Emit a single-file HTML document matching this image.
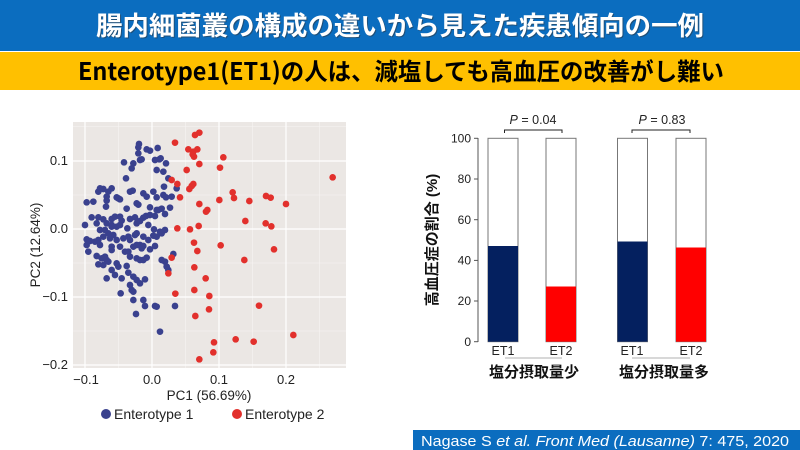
<!DOCTYPE html>
<html><head><meta charset="utf-8"><style>
html,body{margin:0;padding:0;background:#fff;width:800px;height:450px;overflow:hidden}
svg{display:block}
text{font-family:"Liberation Sans","Noto Sans CJK JP",sans-serif}
</style></head><body>
<svg width="800" height="450" viewBox="0 0 800 450" xmlns="http://www.w3.org/2000/svg">
<rect x="0" y="0" width="800" height="51" fill="#0b6dbf"/>
<rect x="0" y="52" width="800" height="38" fill="#ffc000"/>
<text x="401" y="36" text-anchor="middle" font-size="26" fill="#333" font-weight="bold" textLength="608" lengthAdjust="spacingAndGlyphs" style="font-family:'Noto Sans CJK JP',sans-serif" opacity="0.5">腸内細菌叢の構成の違いから見えた疾患傾向の一例</text>
<text x="400" y="35" text-anchor="middle" font-size="26" fill="#fff" font-weight="bold" textLength="608" lengthAdjust="spacingAndGlyphs" style="font-family:'Noto Sans CJK JP',sans-serif">腸内細菌叢の構成の違いから見えた疾患傾向の一例</text>
<text x="401" y="80" text-anchor="middle" font-size="24" fill="#000" font-weight="bold" textLength="646" lengthAdjust="spacingAndGlyphs" style="font-family:'Noto Sans CJK JP',sans-serif">Enterotype1(ET1)の人は、減塩しても高血圧の改善がし難い</text>

<rect x="73" y="122" width="273" height="246" fill="#ebe7e4"/>
<g stroke="#f7f5f3" stroke-width="0.6">
<line x1="118.5" y1="122" x2="118.5" y2="368"/><line x1="185.5" y1="122" x2="185.5" y2="368"/><line x1="252.5" y1="122" x2="252.5" y2="368"/><line x1="319.5" y1="122" x2="319.5" y2="368"/>
<line x1="73" y1="126.5" x2="346" y2="126.5"/><line x1="73" y1="195" x2="346" y2="195"/><line x1="73" y1="263" x2="346" y2="263"/><line x1="73" y1="331" x2="346" y2="331"/>
</g>
<g stroke="#fff" stroke-width="1.2">
<line x1="85" y1="122" x2="85" y2="368"/><line x1="152" y1="122" x2="152" y2="368"/><line x1="219" y1="122" x2="219" y2="368"/><line x1="286" y1="122" x2="286" y2="368"/>
<line x1="73" y1="161" x2="346" y2="161"/><line x1="73" y1="229" x2="346" y2="229"/><line x1="73" y1="297" x2="346" y2="297"/><line x1="73" y1="365" x2="346" y2="365"/>
</g>
<g font-size="13" fill="#222" text-anchor="end">
<text x="68" y="165">0.1</text><text x="68" y="233">0.0</text><text x="68" y="301">−0.1</text><text x="68" y="369">−0.2</text>
</g>
<g font-size="13" fill="#222" text-anchor="middle">
<text x="86" y="384">−0.1</text><text x="152" y="384">0.0</text><text x="219" y="384">0.1</text><text x="286" y="384">0.2</text>
<text x="209" y="400" font-size="13.5">PC1 (56.69%)</text>
</g>
<text transform="translate(40,245) rotate(-90)" font-size="13.5" fill="#222" text-anchor="middle">PC2 (12.64%)</text>
<g transform="translate(40,110) scale(0.33333)">
<g fill="#3a418e">
<circle cx="297" cy="102" r="10"/><circle cx="295" cy="112" r="10"/><circle cx="320" cy="118" r="10"/><circle cx="330" cy="122" r="10"/><circle cx="295" cy="130" r="10"/><circle cx="300" cy="150" r="10"/><circle cx="280" cy="160" r="10"/><circle cx="252" cy="157" r="10"/><circle cx="305" cy="148" r="10"/><circle cx="345" cy="150" r="10"/><circle cx="358" cy="148" r="10"/><circle cx="362" cy="145" r="10"/><circle cx="353" cy="114" r="10"/><circle cx="378" cy="160" r="10"/><circle cx="275" cy="175" r="10"/><circle cx="258" cy="205" r="10"/><circle cx="370" cy="185" r="10"/><circle cx="350" cy="180" r="10"/><circle cx="385" cy="205" r="10"/><circle cx="190" cy="237" r="10"/><circle cx="205" cy="245" r="10"/><circle cx="215" cy="235" r="10"/><circle cx="180" cy="235" r="10"/><circle cx="175" cy="245" r="10"/><circle cx="200" cy="260" r="10"/><circle cx="230" cy="262" r="10"/><circle cx="240" cy="268" r="10"/><circle cx="270" cy="245" r="10"/><circle cx="278" cy="242" r="10"/><circle cx="310" cy="250" r="10"/><circle cx="320" cy="260" r="10"/><circle cx="340" cy="245" r="10"/><circle cx="350" cy="262" r="10"/><circle cx="372" cy="230" r="10"/><circle cx="370" cy="255" r="10"/><circle cx="378" cy="262" r="10"/><circle cx="395" cy="260" r="10"/><circle cx="410" cy="235" r="10"/><circle cx="140" cy="277" r="10"/><circle cx="160" cy="275" r="10"/><circle cx="200" cy="272" r="10"/><circle cx="198" cy="290" r="10"/><circle cx="235" cy="265" r="10"/><circle cx="260" cy="296" r="10"/><circle cx="290" cy="280" r="10"/><circle cx="295" cy="284" r="10"/><circle cx="330" cy="292" r="10"/><circle cx="350" cy="300" r="10"/><circle cx="365" cy="296" r="10"/><circle cx="390" cy="293" r="10"/><circle cx="155" cy="322" r="10"/><circle cx="175" cy="322" r="10"/><circle cx="190" cy="328" r="10"/><circle cx="215" cy="327" r="10"/><circle cx="225" cy="320" r="10"/><circle cx="240" cy="320" r="10"/><circle cx="245" cy="332" r="10"/><circle cx="270" cy="327" r="10"/><circle cx="285" cy="322" r="10"/><circle cx="310" cy="323" r="10"/><circle cx="318" cy="318" r="10"/><circle cx="330" cy="315" r="10"/><circle cx="345" cy="318" r="10"/><circle cx="375" cy="312" r="10"/><circle cx="135" cy="345" r="10"/><circle cx="170" cy="340" r="10"/><circle cx="200" cy="340" r="10"/><circle cx="215" cy="345" r="10"/><circle cx="230" cy="350" r="10"/><circle cx="240" cy="345" r="10"/><circle cx="262" cy="355" r="10"/><circle cx="290" cy="340" r="10"/><circle cx="300" cy="333" r="10"/><circle cx="325" cy="345" r="10"/><circle cx="342" cy="358" r="10"/><circle cx="375" cy="360" r="10"/><circle cx="365" cy="370" r="10"/><circle cx="180" cy="360" r="10"/><circle cx="195" cy="360" r="10"/><circle cx="215" cy="350" r="10"/><circle cx="205" cy="370" r="10"/><circle cx="220" cy="375" r="10"/><circle cx="250" cy="385" r="10"/><circle cx="265" cy="380" r="10"/><circle cx="290" cy="370" r="10"/><circle cx="310" cy="380" r="10"/><circle cx="340" cy="377" r="10"/><circle cx="350" cy="380" r="10"/><circle cx="140" cy="388" r="10"/><circle cx="150" cy="393" r="10"/><circle cx="140" cy="405" r="10"/><circle cx="145" cy="425" r="10"/><circle cx="165" cy="395" r="10"/><circle cx="175" cy="390" r="10"/><circle cx="190" cy="380" r="10"/><circle cx="210" cy="385" r="10"/><circle cx="230" cy="390" r="10"/><circle cx="270" cy="390" r="10"/><circle cx="285" cy="375" r="10"/><circle cx="300" cy="405" r="10"/><circle cx="310" cy="408" r="10"/><circle cx="325" cy="390" r="10"/><circle cx="345" cy="408" r="10"/><circle cx="180" cy="405" r="10"/><circle cx="215" cy="410" r="10"/><circle cx="215" cy="420" r="10"/><circle cx="240" cy="410" r="10"/><circle cx="255" cy="425" r="10"/><circle cx="265" cy="425" r="10"/><circle cx="280" cy="410" r="10"/><circle cx="290" cy="405" r="10"/><circle cx="305" cy="415" r="10"/><circle cx="330" cy="418" r="10"/><circle cx="170" cy="438" r="10"/><circle cx="185" cy="445" r="10"/><circle cx="195" cy="440" r="10"/><circle cx="200" cy="450" r="10"/><circle cx="175" cy="463" r="10"/><circle cx="190" cy="465" r="10"/><circle cx="205" cy="455" r="10"/><circle cx="230" cy="460" r="10"/><circle cx="235" cy="470" r="10"/><circle cx="260" cy="468" r="10"/><circle cx="270" cy="440" r="10"/><circle cx="290" cy="445" r="10"/><circle cx="300" cy="450" r="10"/><circle cx="310" cy="450" r="10"/><circle cx="320" cy="443" r="10"/><circle cx="365" cy="450" r="10"/><circle cx="375" cy="455" r="10"/><circle cx="400" cy="432" r="10"/><circle cx="215" cy="480" r="10"/><circle cx="225" cy="495" r="10"/><circle cx="200" cy="505" r="10"/><circle cx="245" cy="505" r="10"/><circle cx="265" cy="488" r="10"/><circle cx="280" cy="500" r="10"/><circle cx="290" cy="510" r="10"/><circle cx="300" cy="520" r="10"/><circle cx="315" cy="508" r="10"/><circle cx="270" cy="525" r="10"/><circle cx="275" cy="540" r="10"/><circle cx="280" cy="545" r="10"/><circle cx="242" cy="550" r="10"/><circle cx="280" cy="570" r="10"/><circle cx="310" cy="570" r="10"/><circle cx="315" cy="588" r="10"/><circle cx="345" cy="588" r="10"/><circle cx="350" cy="590" r="10"/><circle cx="288" cy="612" r="10"/><circle cx="360" cy="665" r="10"/><circle cx="405" cy="588" r="10"/><circle cx="385" cy="480" r="10"/><circle cx="380" cy="470" r="10"/><circle cx="360" cy="365" r="10"/><circle cx="355" cy="300" r="10"/>
</g>
<g fill="#e2302c">
<circle cx="405" cy="98" r="10"/><circle cx="465" cy="75" r="10"/><circle cx="478" cy="68" r="10"/><circle cx="460" cy="125" r="10"/><circle cx="458" cy="133" r="10"/><circle cx="462" cy="140" r="10"/><circle cx="445" cy="118" r="10"/><circle cx="472" cy="118" r="10"/><circle cx="440" cy="180" r="10"/><circle cx="478" cy="162" r="10"/><circle cx="550" cy="142" r="10"/><circle cx="540" cy="173" r="10"/><circle cx="412" cy="222" r="10"/><circle cx="395" cy="210" r="10"/><circle cx="420" cy="262" r="10"/><circle cx="448" cy="237" r="10"/><circle cx="455" cy="228" r="10"/><circle cx="460" cy="222" r="10"/><circle cx="478" cy="282" r="10"/><circle cx="498" cy="305" r="10"/><circle cx="502" cy="300" r="10"/><circle cx="538" cy="270" r="10"/><circle cx="578" cy="247" r="10"/><circle cx="582" cy="264" r="10"/><circle cx="628" cy="273" r="10"/><circle cx="678" cy="258" r="10"/><circle cx="692" cy="263" r="10"/><circle cx="738" cy="282" r="10"/><circle cx="878" cy="202" r="10"/><circle cx="412" cy="355" r="10"/><circle cx="450" cy="358" r="10"/><circle cx="476" cy="348" r="10"/><circle cx="616" cy="333" r="10"/><circle cx="677" cy="340" r="10"/><circle cx="694" cy="349" r="10"/><circle cx="462" cy="398" r="10"/><circle cx="472" cy="423" r="10"/><circle cx="542" cy="406" r="10"/><circle cx="702" cy="418" r="10"/><circle cx="613" cy="450" r="10"/><circle cx="395" cy="443" r="10"/><circle cx="385" cy="490" r="10"/><circle cx="463" cy="472" r="10"/><circle cx="497" cy="505" r="10"/><circle cx="406" cy="551" r="10"/><circle cx="463" cy="540" r="10"/><circle cx="508" cy="558" r="10"/><circle cx="507" cy="598" r="10"/><circle cx="657" cy="587" r="10"/><circle cx="466" cy="618" r="10"/><circle cx="522" cy="697" r="10"/><circle cx="520" cy="727" r="10"/><circle cx="478" cy="748" r="10"/><circle cx="587" cy="688" r="10"/><circle cx="641" cy="695" r="10"/><circle cx="760" cy="675" r="10"/>
</g>
</g>
<circle cx="106" cy="414" r="5" fill="#3a418e"/>
<text x="114" y="419" font-size="14" fill="#222">Enterotype 1</text>
<circle cx="237" cy="414" r="5" fill="#e2302c"/>
<text x="245" y="419" font-size="14" fill="#222">Enterotype 2</text>

<line x1="478" y1="138" x2="478" y2="342" stroke="#555" stroke-width="1"/>
<g stroke="#555" stroke-width="1">
<line x1="474" y1="138.3" x2="478" y2="138.3"/><line x1="474" y1="179" x2="478" y2="179"/><line x1="474" y1="219.7" x2="478" y2="219.7"/><line x1="474" y1="260.4" x2="478" y2="260.4"/><line x1="474" y1="301" x2="478" y2="301"/><line x1="474" y1="341.7" x2="478" y2="341.7"/>
</g>
<g font-size="12" fill="#222" text-anchor="end">
<text x="471" y="142.5">100</text><text x="471" y="183">80</text><text x="471" y="224">60</text><text x="471" y="264.5">40</text><text x="471" y="305">20</text><text x="471" y="346">0</text>
</g>
<text transform="translate(437,240) rotate(-90)" font-size="15" font-weight="bold" fill="#111" text-anchor="middle">高血圧症の割合 (%)</text>
<g stroke="#777" stroke-width="1">
<rect x="488" y="138.3" width="30" height="203.4" fill="#fff"/>
<rect x="546" y="138.3" width="30" height="203.4" fill="#fff"/>
<rect x="617.5" y="138.3" width="30" height="203.4" fill="#fff"/>
<rect x="676" y="138.3" width="30" height="203.4" fill="#fff"/>
</g>
<rect x="488" y="246" width="30" height="95.7" fill="#04205f"/>
<rect x="546" y="286.5" width="30" height="55.2" fill="#ff0000"/>
<rect x="617.5" y="241.5" width="30" height="100.2" fill="#04205f"/>
<rect x="676" y="247.5" width="30" height="94.2" fill="#ff0000"/>
<g fill="none" stroke="#222" stroke-width="1">
<path d="M504.5 133 V130 H562 V133"/><path d="M632 133 V130 H690 V133"/>
</g>
<g stroke="#999" stroke-width="0.8"><line x1="505" y1="358" x2="562" y2="358"/><line x1="632" y1="358" x2="690" y2="358"/></g>
<g font-size="12.5" fill="#222" text-anchor="middle">
<text x="533" y="124"><tspan font-style="italic">P</tspan> = 0.04</text>
<text x="662" y="124"><tspan font-style="italic">P</tspan> = 0.83</text>
<text x="503" y="355">ET1</text><text x="561" y="355">ET2</text><text x="632" y="355">ET1</text><text x="691" y="355">ET2</text>
</g>
<g font-size="15" font-weight="bold" fill="#111" text-anchor="middle">
<text x="534" y="377">塩分摂取量少</text><text x="664" y="377">塩分摂取量多</text>
</g>

<rect x="413" y="430" width="387" height="20" fill="#0b6dbf"/>
<text x="421" y="446" font-size="14.5" fill="#fff" textLength="368" lengthAdjust="spacingAndGlyphs">Nagase S <tspan font-style="italic">et al. Front Med (Lausanne)</tspan> 7: 475, 2020</text>
</svg>
</body></html>
